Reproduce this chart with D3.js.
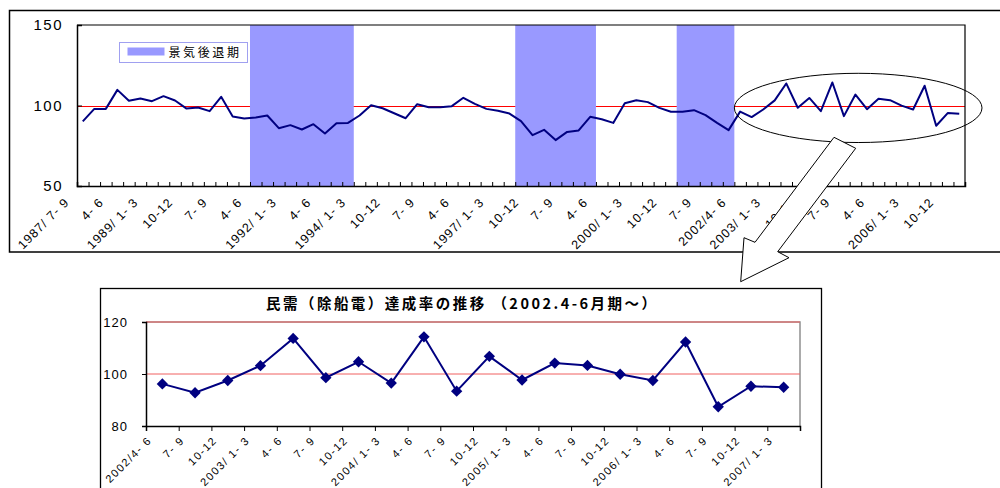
<!DOCTYPE html>
<html>
<head>
<meta charset="utf-8">
<script src="https://cdn.jsdelivr.net/npm/d3@7"></script>
<style>
  html, body { margin: 0; padding: 0; background: #fff; }
  svg { display: block; }
  text { font-family: "Liberation Sans", Arial, sans-serif; fill: #000; }
  .jp { font-family: "Noto Sans CJK JP", sans-serif; }
  .pre { white-space: pre; }
</style>
</head>
<body>
<svg id="chart" width="1000" height="488"></svg>
<script>
// Achievement rate (100 = plan), quarterly from 1987/7-9 up to 2002/1-3
const earlyValues = [
  90.1, 97.9, 97.9, 109.7, 102.9, 104.3, 102.7, 105.8, 103.1, 98.1,
  98.8, 96.5, 105.4, 93.2, 91.9, 92.5, 93.8, 85.9, 87.8, 85.1,
  88.4, 82.6, 89.0, 89.2, 93.8, 100.2, 98.3, 95.2, 92.1, 100.8,
  98.9, 98.9, 99.6, 104.8, 101.0, 97.9, 96.7, 95.0, 90.3, 81.6,
  84.9, 78.5, 83.6, 84.5, 93.0, 91.5, 89.2, 101.4, 103.3, 102.1,
  98.5, 96.1, 96.1, 97.1, 94.0, 89.2, 84.7
];

// Detail period 2002/4-6 .. 2007/1-3 (also the tail of the long series)
const recentCategories = [
  "2002/4- 6", " 7- 9", "10-12", "2003/ 1- 3", " 4- 6", " 7- 9", "10-12",
  "2004/ 1- 3", " 4- 6", " 7- 9", "10-12", "2005/ 1- 3", " 4- 6", " 7- 9",
  "10-12", "2006/ 1- 3", " 4- 6", " 7- 9", "10-12", "2007/ 1- 3"
];
const recentValues = [
  96.2, 92.8, 97.5, 103.2, 113.7, 98.6, 104.7, 96.5, 114.3, 93.4,
  106.8, 97.7, 104.2, 103.3, 99.9, 97.5, 112.3, 87.4, 95.3, 94.9
];

// Labels of the long axis, one every third quarter
const longTickLabels = [
  "1987/ 7- 9", " 4- 6", "1989/ 1- 3", "10-12", " 7- 9", " 4- 6",
  "1992/ 1- 3", " 4- 6", "1994/ 1- 3", "10-12", " 7- 9", " 4- 6",
  "1997/ 1- 3", "10-12", " 7- 9", " 4- 6", "2000/ 1- 3", "10-12",
  " 7- 9", "2002/4- 6", "2003/ 1- 3", "10-12", " 7- 9", " 4- 6",
  "2006/ 1- 3", "10-12"
];
const longTickStep = 3;

// Recession periods as [first, last] quarter index of the long series
const recessions = [[15, 23], [38, 44], [52, 56]];

const longYTicks = [50, 100, 150];
const detailYTicks = [80, 100, 120];
const referenceLevel = 100;
const legendLabel = "景気後退期";
const detailTitle = "民需（除船電）達成率の推移 （2002.4-6月期～）";

const longValues = earlyValues.concat(recentValues);
const detailStart = earlyValues.length;

const svg = d3.select("#chart");
const NAVY = "#000080";
const BAND = "#9999ff";

/* ---------------- upper panel: long series ---------------- */
const upper = { left: 77, right: 965, top: 25, bottom: 186 };

svg.append("rect")
  .attr("x", 9.5).attr("y", 10.5).attr("width", 1000).attr("height", 241.5)
  .attr("fill", "#fff").attr("stroke", "#000").attr("stroke-width", 1.5);

const xL = d3.scaleBand().domain(d3.range(longValues.length)).range([upper.left, upper.right]);
const xLb = d3.scaleLinear().domain([0, longValues.length]).range([upper.left, upper.right]);
const yL = d3.scaleLinear().domain([50, 150]).range([upper.bottom, upper.top]);

// 100 % reference line
svg.append("line")
  .attr("x1", upper.left).attr("x2", upper.right)
  .attr("y1", Math.round(yL(referenceLevel)) + 0.5).attr("y2", Math.round(yL(referenceLevel)) + 0.5)
  .attr("stroke", "#ff0000").attr("stroke-width", 1.2)
  .attr("shape-rendering", "crispEdges");

svg.append("g").selectAll("rect").data(recessions).join("rect")
  .attr("x", d => xL(d[0]))
  .attr("width", d => xL(d[1]) + xL.bandwidth() - xL(d[0]))
  .attr("y", upper.top).attr("height", upper.bottom - upper.top)
  .attr("fill", BAND);

// plot frame (top / right)
svg.append("path")
  .attr("d", `M${upper.left},${upper.top}H${upper.right}V${upper.bottom}`)
  .attr("fill", "none").attr("stroke", "#000").attr("stroke-width", 1.2);

const yAxisL = svg.append("g")
  .attr("transform", `translate(${upper.left},0)`)
  .call(d3.axisLeft(yL).tickValues(longYTicks).tickSize(-5).tickPadding(14).tickFormat(d3.format("d")));
yAxisL.select(".domain").attr("stroke-width", 1.5);
yAxisL.selectAll("text").attr("font-size", 15).attr("letter-spacing", 1.5)
  .style("font-family", "'Liberation Sans', Arial, sans-serif");

const xAxisL = svg.append("g")
  .attr("transform", `translate(0,${upper.bottom})`)
  .call(d3.axisBottom(xLb).tickValues(d3.range(longValues.length + 1)).tickSize(-4).tickFormat(""));
xAxisL.select(".domain").attr("stroke-width", 1.5);

svg.append("g").selectAll("text").data(longTickLabels).join("text")
  .attr("class", "pre")
  .attr("transform", (d, i) => {
    const cx = xL(i * longTickStep) + xL.bandwidth() / 2 - 13;
    return `translate(${cx},${upper.bottom + 17}) rotate(-45)`;
  })
  .attr("text-anchor", "end")
  .attr("font-size", 12.5).attr("letter-spacing", 1)
  .text(d => d);

svg.append("path")
  .datum(longValues)
  .attr("fill", "none").attr("stroke", NAVY).attr("stroke-width", 2)
  .attr("stroke-linejoin", "round")
  .attr("d", d3.line().x((d, i) => xL(i) + xL.bandwidth() / 2).y(d => yL(d)));

// legend
const lg = svg.append("g").attr("transform", "translate(119.5,42.5)");
lg.append("rect").attr("width", 128).attr("height", 20)
  .attr("fill", "#fff").attr("stroke", "#a0a0f0").attr("stroke-width", 1);
lg.append("rect").attr("x", 8).attr("y", 5).attr("width", 37).attr("height", 8).attr("fill", BAND);
lg.append("text").attr("class", "jp").attr("x", 49).attr("y", 14.5)
  .attr("font-size", 12).attr("letter-spacing", 2.6).text(legendLabel);

// highlight ellipse around the detail period
const ellX0 = xL(detailStart), ellX1 = upper.right + 17;
const ellY0 = yL(120), ellY1 = yL(77);
svg.append("ellipse")
  .attr("cx", (ellX0 + ellX1) / 2).attr("cy", (ellY0 + ellY1) / 2)
  .attr("rx", (ellX1 - ellX0) / 2).attr("ry", (ellY1 - ellY0) / 2)
  .attr("fill", "none").attr("stroke", "#000").attr("stroke-width", 1);

/* ---------------- lower panel: detail ---------------- */
const lower = { left: 146, right: 800, top: 322, bottom: 426 };

svg.append("rect")
  .attr("x", 100.5).attr("y", 288.5).attr("width", 721).attr("height", 300)
  .attr("fill", "#fff").attr("stroke", "#000").attr("stroke-width", 1.3);

svg.append("text").attr("class", "jp")
  .attr("x", 461).attr("y", 309).attr("text-anchor", "middle")
  .attr("font-size", 14.5).attr("font-weight", "bold")
  .attr("textLength", 390).attr("lengthAdjust", "spacing")
  .text(detailTitle);

const xD = d3.scaleBand().domain(d3.range(recentValues.length)).range([lower.left, lower.right]);
const xDb = d3.scaleLinear().domain([0, recentValues.length]).range([lower.left, lower.right]);
const yD = d3.scaleLinear().domain([80, 120]).range([lower.bottom, lower.top]);

svg.append("path")
  .attr("d", `M${lower.left},${lower.top}H${lower.right}V${lower.bottom}`)
  .attr("fill", "none").attr("stroke", "#909090").attr("stroke-width", 1.5);

svg.append("g").selectAll("line").data(detailYTicks.filter(v => v > 80)).join("line")
  .attr("x1", lower.left).attr("x2", lower.right)
  .attr("y1", d => yD(d)).attr("y2", d => yD(d))
  .attr("stroke", "#f06060").attr("stroke-width", 1);

const yAxisD = svg.append("g")
  .attr("transform", `translate(${lower.left},0)`)
  .call(d3.axisLeft(yD).tickValues(detailYTicks).tickSize(4).tickPadding(14));
yAxisD.select(".domain").attr("stroke-width", 1.5);
yAxisD.selectAll("text").attr("font-size", 13).attr("letter-spacing", 1)
  .style("font-family", "'Liberation Sans', Arial, sans-serif");

const xAxisD = svg.append("g")
  .attr("transform", `translate(0,${lower.bottom})`)
  .call(d3.axisBottom(xDb).tickValues(d3.range(recentValues.length + 1)).tickSize(5).tickFormat(""));
xAxisD.select(".domain").attr("stroke-width", 1.5);

svg.append("g").selectAll("text").data(recentCategories).join("text")
  .attr("class", "pre")
  .attr("transform", (d, i) => {
    const cx = xD(i) + xD.bandwidth() / 2 - 10;
    return `translate(${cx},${lower.bottom + 15}) rotate(-45)`;
  })
  .attr("text-anchor", "end")
  .attr("font-size", 11).attr("letter-spacing", 1.5)
  .text(d => d);

svg.append("path")
  .datum(recentValues)
  .attr("fill", "none").attr("stroke", NAVY).attr("stroke-width", 2)
  .attr("d", d3.line().x((d, i) => xD(i) + xD.bandwidth() / 2).y(d => yD(d)));

svg.append("g").selectAll("path").data(recentValues).join("path")
  .attr("transform", (d, i) => `translate(${xD(i) + xD.bandwidth() / 2},${yD(d)}) rotate(45)`)
  .attr("d", d3.symbol(d3.symbolSquare, 64))
  .attr("fill", NAVY);

/* ---------------- callout arrow from the ellipse to the detail panel ---------------- */
const calloutArrow = [
  [834, 137.3], [855.7, 148.3], [777.7, 251.7], [789, 257.7],
  [740.7, 281.7], [744, 237.7], [755, 242.3]
];
svg.append("path")
  .attr("d", d3.line()(calloutArrow) + "Z")
  .attr("fill", "#fff").attr("stroke", "#000").attr("stroke-width", 1);
</script>
</body>
</html>
